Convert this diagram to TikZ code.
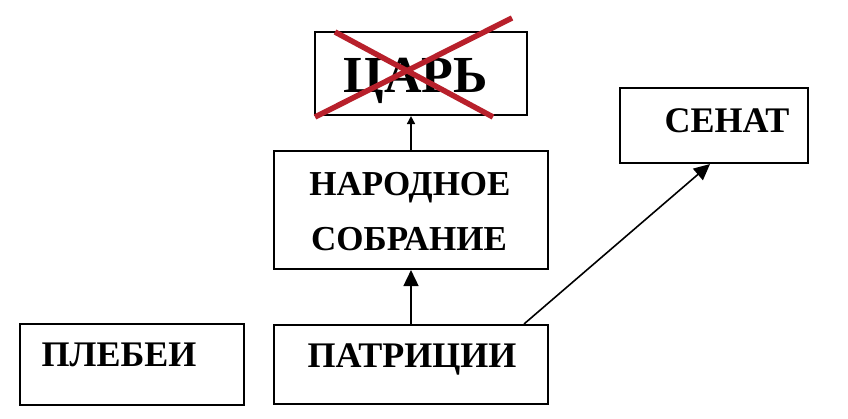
\documentclass[tikz,border=0pt]{standalone}
\usepackage{fontspec}
\setmainfont{Liberation Serif}
\usetikzlibrary{arrows.meta}
\definecolor{crossred}{HTML}{B8202B}
\begin{document}
\begin{tikzpicture}[x=1pt,y=-1pt,
  box/.style={draw=black,line width=2.1pt,fill=white,inner sep=0pt,minimum width=#1},
  txt/.style={anchor=base,font=\bfseries\fontsize{36}{36}\selectfont,inner sep=0pt},
  arr/.style={draw=black,line width=1.6pt,-{Triangle[length=16pt,width=15pt]}},
  smallarr/.style={draw=black,line width=1.6pt,-{Triangle[length=8pt,width=8pt]}},
  cross/.style={draw=crossred,line width=5.5pt}]
\useasboundingbox (0,0) rectangle (848,418);
\fill[white] (0,0) rectangle (848,418);
% boxes
\node[box=212pt,minimum height=83pt] (tsar) at (421,73.5) {};
\node[box=274pt,minimum height=118pt] (nar) at (411,210) {};
\node[box=188pt,minimum height=75pt] (sen) at (714,125.5) {};
\node[box=224pt,minimum height=81pt] (pleb) at (132,364.5) {};
\node[box=274pt,minimum height=79pt] (patr) at (411,364.5) {};
% texts
\node[txt,font=\bfseries\fontsize{52}{52}\selectfont] (tsartxt) at (416,92) {ЦАРЬ};
\node[txt,font=\bfseries\fontsize{35}{35}\selectfont] (nartxt1) at (410,195) {НАРОДНОЕ};
\node[txt,font=\bfseries\fontsize{35}{35}\selectfont] (nartxt2) at (409,250) {СОБРАНИЕ};
\node[txt] (sentxt) at (727,132) {СЕНАТ};
\node[txt] (plebtxt) at (119,366) {ПЛЕБЕИ};
\node[txt] (patrtxt) at (412,367) {ПАТРИЦИИ};
% red cross
\draw[cross] (335,32) -- (493,117);
\draw[cross] (315,117) -- (512,18);
% connectors
\coordinate (pstart) at ([xshift=-25pt]patr.north east);
\draw[arr] (patr.north) -- (nar.south);
\draw[smallarr] (nar.north) -- (nar.north |- tsar.south);
\draw[arr] (pstart) -- ([xshift=-4pt]sen.south);
\end{tikzpicture}
\end{document}
